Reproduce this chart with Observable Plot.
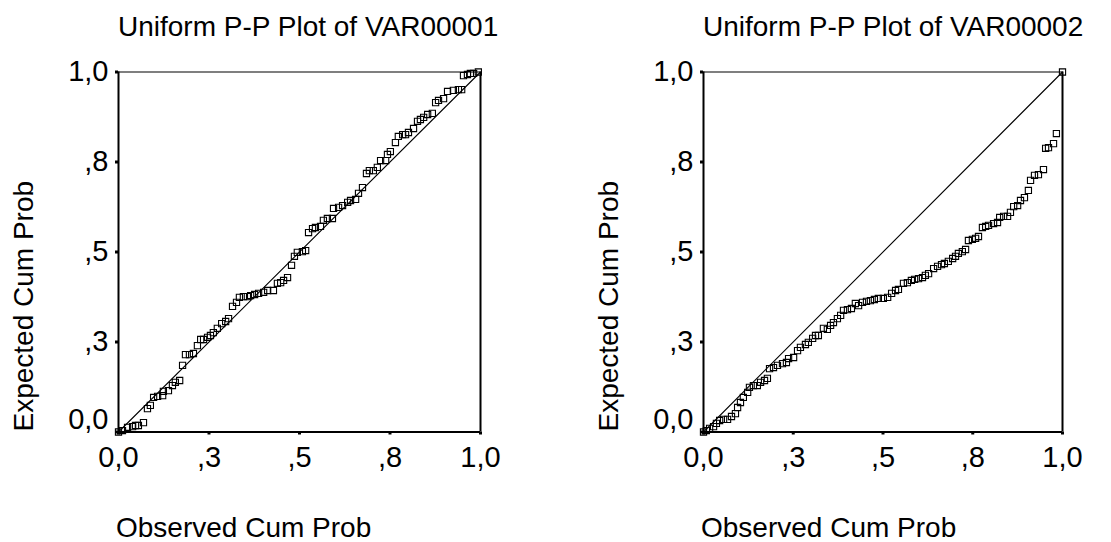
<!DOCTYPE html>
<html>
<head>
<meta charset="utf-8">
<script src="https://cdn.jsdelivr.net/npm/d3@7"></script>
<script src="https://cdn.jsdelivr.net/npm/@observablehq/plot@0.6"></script>
<style>
  html, body { margin: 0; padding: 0; background: #fff; }
  #chart { position: relative; width: 1111px; height: 542px; overflow: hidden; background: #fff; }
  #chart svg { position: absolute; top: 0; }
</style>
</head>
<body>
<div id="chart"></div>
<script>
// Uniform P-P plots: observed vs expected cumulative probability
const tickValues = [0, 0.25, 0.5, 0.75, 1];
const tickLabels = ["0,0", ",3", ",5", ",8", "1,0"];
const diagonal = [0, 1];

const titles = ["Uniform P-P Plot of VAR00001", "Uniform P-P Plot of VAR00002"];
const xLabel = "Observed Cum Prob";
const yLabel = "Expected Cum Prob";

// VAR00001
const observed1 = [0.000,0.011,0.025,0.039,0.047,0.055,0.069,0.080,0.088,0.097,0.108,0.122,0.124,0.138,0.149,0.157,0.169,0.177,0.185,0.196,0.207,0.218,0.227,0.235,0.246,0.254,0.262,0.273,0.285,0.296,0.304,0.315,0.326,0.334,0.345,0.356,0.365,0.376,0.387,0.401,0.412,0.428,0.439,0.448,0.456,0.467,0.478,0.486,0.494,0.508,0.517,0.525,0.536,0.544,0.558,0.566,0.577,0.591,0.594,0.608,0.619,0.633,0.641,0.655,0.663,0.674,0.685,0.693,0.704,0.715,0.724,0.738,0.743,0.751,0.765,0.773,0.785,0.793,0.801,0.815,0.826,0.834,0.843,0.854,0.867,0.876,0.884,0.898,0.909,0.925,0.939,0.948,0.953,0.964,0.972,0.981,0.994];
const expected1 = [0.000,0.004,0.013,0.015,0.018,0.018,0.026,0.065,0.074,0.096,0.099,0.101,0.113,0.115,0.129,0.138,0.143,0.185,0.215,0.215,0.218,0.240,0.257,0.257,0.263,0.268,0.276,0.288,0.301,0.307,0.315,0.349,0.360,0.374,0.376,0.376,0.379,0.382,0.385,0.388,0.393,0.393,0.413,0.415,0.421,0.429,0.463,0.488,0.499,0.501,0.504,0.554,0.565,0.568,0.571,0.588,0.593,0.593,0.621,0.624,0.629,0.638,0.643,0.646,0.663,0.679,0.718,0.726,0.726,0.735,0.754,0.754,0.771,0.779,0.804,0.821,0.826,0.826,0.832,0.843,0.863,0.868,0.874,0.882,0.885,0.915,0.921,0.926,0.946,0.949,0.951,0.951,0.990,0.993,0.996,0.996,1.000];

// VAR00002
const observed2 = [0.000,0.008,0.017,0.028,0.036,0.045,0.056,0.067,0.078,0.089,0.095,0.103,0.111,0.123,0.128,0.139,0.150,0.159,0.170,0.178,0.184,0.195,0.206,0.220,0.231,0.237,0.251,0.262,0.270,0.284,0.292,0.304,0.312,0.320,0.334,0.345,0.354,0.362,0.373,0.382,0.390,0.401,0.412,0.423,0.432,0.443,0.454,0.465,0.476,0.487,0.501,0.513,0.524,0.535,0.543,0.557,0.568,0.579,0.588,0.599,0.610,0.618,0.627,0.641,0.652,0.663,0.671,0.682,0.694,0.702,0.710,0.721,0.730,0.738,0.749,0.758,0.766,0.777,0.786,0.794,0.808,0.819,0.825,0.836,0.847,0.855,0.864,0.875,0.883,0.894,0.905,0.911,0.922,0.933,0.947,0.953,0.961,0.975,0.983,1.000];
const expected2 = [0.000,0.004,0.010,0.015,0.024,0.032,0.035,0.035,0.043,0.051,0.068,0.082,0.096,0.110,0.124,0.129,0.129,0.138,0.143,0.149,0.176,0.179,0.185,0.190,0.193,0.204,0.207,0.226,0.235,0.243,0.249,0.260,0.268,0.268,0.288,0.285,0.296,0.304,0.315,0.324,0.338,0.340,0.343,0.357,0.351,0.360,0.363,0.365,0.368,0.371,0.371,0.374,0.385,0.393,0.396,0.413,0.415,0.421,0.424,0.426,0.429,0.435,0.440,0.454,0.460,0.465,0.468,0.474,0.482,0.488,0.496,0.501,0.507,0.532,0.535,0.538,0.543,0.568,0.571,0.574,0.579,0.582,0.596,0.599,0.599,0.610,0.626,0.629,0.643,0.651,0.671,0.699,0.713,0.715,0.729,0.788,0.790,0.801,0.829,1.000];

const FONT = "'Liberation Sans', Arial, Helvetica, sans-serif";
const fmt = v => tickLabels[tickValues.indexOf(v)];

function ppPlot({title, observed, expected, left, width, marginLeft, marginRight}) {
  const points = observed.map((x, i) => ({obs: x, exp: expected[i]}));
  const marginTop = 71.5, marginBottom = 110.5, height = 542;
  const svg = Plot.plot({
    width, height, marginLeft, marginRight, marginTop, marginBottom,
    style: {fontFamily: FONT, color: "#000", background: "transparent"},
    x: {domain: [0, 1], label: null},
    y: {domain: [0, 1], label: null},
    marks: [
      // reference diagonal
      Plot.line(diagonal, {x: d => d, y: d => d, stroke: "#000", strokeWidth: 1.1}),
      // observations
      Plot.dot(points, {x: "obs", y: "exp", symbol: "square", r: 3.5, stroke: "#000", strokeWidth: 1.1, fill: "none"}),
      // frame: thin top edge, heavier left/bottom/right edges
      Plot.ruleY([1], {stroke: "#000", strokeWidth: 1.2}),
      Plot.ruleX([1], {stroke: "#000", strokeWidth: 2}),
      Plot.ruleY([0], {stroke: "#000", strokeWidth: 2}),
      Plot.ruleX([0], {stroke: "#000", strokeWidth: 2}),
      Plot.axisX(tickValues, {tickSize: 3, tickPadding: 11, strokeWidth: 3, tickFormat: fmt, fontSize: 29, label: null}),
      Plot.axisY(tickValues.slice(1), {tickSize: 3, tickPadding: 7, strokeWidth: 3, tickFormat: fmt, fontSize: 29, label: null}),
      // the bottom label of the y axis sits a little above its tick
      Plot.axisY([0], {tickSize: 3, tickPadding: 7, strokeWidth: 3, tickFormat: fmt, fontSize: 29, label: null, text: null}),
      Plot.axisY([0], {tickSize: 0, tickPadding: 10, tickFormat: fmt, fontSize: 29, label: null, dy: -12})
    ]
  });
  svg.style.left = left + "px";
  const s = d3.select(svg);
  s.append("text")
    .attr("x", marginLeft).attr("y", 36)
    .attr("text-anchor", "start")
    .attr("font-family", FONT).attr("font-size", 28).attr("fill", "#000")
    .text(title);
  s.append("text")
    .attr("x", marginLeft - 2).attr("y", 537)
    .attr("text-anchor", "start")
    .attr("font-family", FONT).attr("font-size", 28).attr("fill", "#000")
    .text(xLabel);
  s.append("text")
    .attr("transform", `translate(${marginLeft - 85},${height - marginBottom}) rotate(-90)`)
    .attr("text-anchor", "start")
    .attr("font-family", FONT).attr("font-size", 28).attr("fill", "#000")
    .text(yLabel);
  return svg;
}

const chart = document.getElementById("chart");
chart.append(ppPlot({title: titles[0], observed: observed1, expected: expected1, left: 0, width: 555, marginLeft: 118, marginRight: 75}));
chart.append(ppPlot({title: titles[1], observed: observed2, expected: expected2, left: 555, width: 556, marginLeft: 148, marginRight: 49}));
</script>
</body>
</html>
